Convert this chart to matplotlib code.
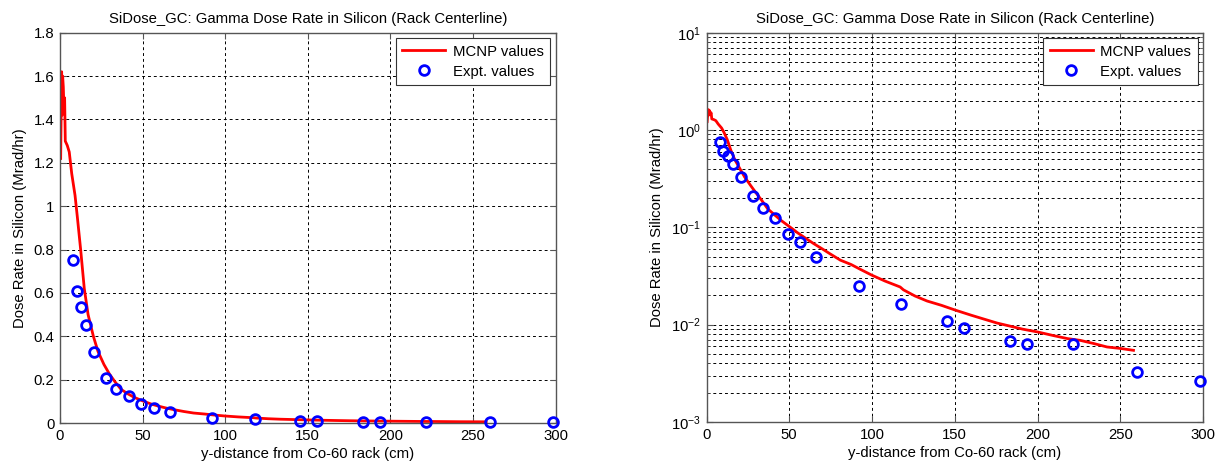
import math
import matplotlib
matplotlib.use("Agg")
import matplotlib.pyplot as plt
from matplotlib.ticker import FuncFormatter, LogLocator, NullFormatter, FixedLocator

# ---- data ----
mcnp_x = [0.4, 0.8, 1.0, 1.3, 1.6, 2.0, 2.4, 2.8, 3.2, 4.4, 5.6, 7.1, 9.1, 10.5, 12.5,
          14.7, 17, 20.2, 23, 26.6, 30, 33.3, 37, 41, 45, 50.7, 55, 60, 64.8, 70, 75,
          80.9, 87.4, 93, 100, 108, 117, 119, 126, 133.3, 142, 150.4, 160, 167, 175.5,
          183, 191, 200.3, 210, 218, 225.8, 234, 242, 250, 258]
mcnp_y = [1.22, 1.50, 1.62, 1.42, 1.60, 1.55, 1.45, 1.50, 1.30, 1.28, 1.25, 1.15, 1.05, 0.95, 0.80,
          0.62, 0.50, 0.40, 0.33, 0.27, 0.225, 0.19, 0.155, 0.135, 0.118, 0.100, 0.088, 0.077, 0.068, 0.060, 0.053,
          0.046, 0.0415, 0.037, 0.0322, 0.028, 0.0244, 0.0228, 0.0197, 0.0175, 0.0158, 0.0141, 0.0125, 0.0115, 0.0104,
          0.0097, 0.0090, 0.0084, 0.0077, 0.0072, 0.0069, 0.0064, 0.0059, 0.0057, 0.00545]

expt_x = [7.9, 10.2, 13, 16, 20.8, 28, 34, 41.5, 49, 56.7, 66.4, 92.2, 117.8, 145.2,
          155.5, 183.5, 193.6, 221.3, 260.3, 298.4]
expt_y = [0.75, 0.61, 0.535, 0.45, 0.326, 0.208, 0.158, 0.126, 0.086, 0.071, 0.050, 0.025,
          0.0162, 0.0108, 0.0092, 0.0068, 0.0064, 0.0063, 0.0033, 0.00266]

title = "SiDose_GC: Gamma Dose Rate in Silicon (Rack Centerline)"
xlabel = "y-distance from Co-60 rack (cm)"
ylabel = "Dose Rate in Silicon (Mrad/hr)"
x_ticks = [0, 50, 100, 150, 200, 250, 300]
lin_y_ticks = [0, 0.2, 0.4, 0.6, 0.8, 1.0, 1.2, 1.4, 1.6, 1.8]
log_y_ticks = [1e-3, 1e-2, 1e-1, 1e0, 1e1]

plt.rcParams['font.family'] = ['Liberation Sans', 'DejaVu Sans']
plt.rcParams['font.size'] = 10.7
plt.rcParams['mathtext.fontset'] = 'custom'
plt.rcParams['mathtext.rm'] = 'Liberation Sans'
plt.rcParams['mathtext.it'] = 'Liberation Sans'

fig = plt.figure(figsize=(12.2, 4.65), dpi=100)
ax1 = fig.add_axes([60/1220, 1-423/465, (555.5-60)/1220, (423-32.7)/465])
ax2 = fig.add_axes([706.5/1220, 1-422/465, (1203-706.5)/1220, (422-32.7)/465])

grid_kw = dict(color='black', linestyle=(0, (3, 3)), linewidth=0.7)
spine_color = '#555555'

for ax in (ax1, ax2):
    ax.plot(mcnp_x, mcnp_y, color='red', linewidth=2, label='MCNP values')
    ax.plot(expt_x, expt_y, linestyle='none', marker='o', markersize=7,
            markerfacecolor='none', markeredgecolor='blue', markeredgewidth=2,
            label='Expt. values', clip_on=False, zorder=5)
    ax.set_xlim(0, 300)
    ax.set_xticks(x_ticks)
    ax.set_title(title, fontsize=10.7, pad=7)
    ax.set_xlabel(xlabel, labelpad=3)
    ax.set_ylabel(ylabel, labelpad=5)
    for s in ax.spines.values():
        s.set_color(spine_color)
        s.set_linewidth(1.0)
    ax.tick_params(direction='in', top=True, right=True, color=spine_color,
                   labelcolor='black', length=4, pad=4)
    ax.tick_params(which='minor', direction='in', top=True, right=True, color=spine_color, length=2)
    leg = ax.legend(loc='upper right', bbox_to_anchor=(1.0, 1.0), borderaxespad=0.35,
                    fancybox=False, framealpha=1, edgecolor='#333333', numpoints=1,
                    handlelength=2.9, handletextpad=0.5, fontsize=10.7,
                    borderpad=0.45, labelspacing=0.4)
    leg.get_frame().set_linewidth(0.8)

ax1.set_ylim(0, 1.8)
ax1.set_yticks(lin_y_ticks)
ax1.yaxis.set_major_formatter(FuncFormatter(lambda v, p: f"{v:g}"))
ax1.grid(True, **grid_kw)

ax2.set_yscale('log')
ax2.set_ylim(1e-3, 1e1)
ax2.yaxis.set_major_locator(FixedLocator(log_y_ticks))
ax2.yaxis.set_minor_locator(LogLocator(base=10, subs=[2, 3, 4, 5, 6, 7, 8, 9]))
ax2.yaxis.set_minor_formatter(NullFormatter())
ax2.yaxis.set_major_formatter(FuncFormatter(lambda v, p: r"$10^{%d}$" % round(math.log10(v))))
ax2.grid(True, which='major', axis='both', **grid_kw)
ax2.grid(True, which='minor', axis='y', **grid_kw)

fig.savefig("out.png", dpi=100)
